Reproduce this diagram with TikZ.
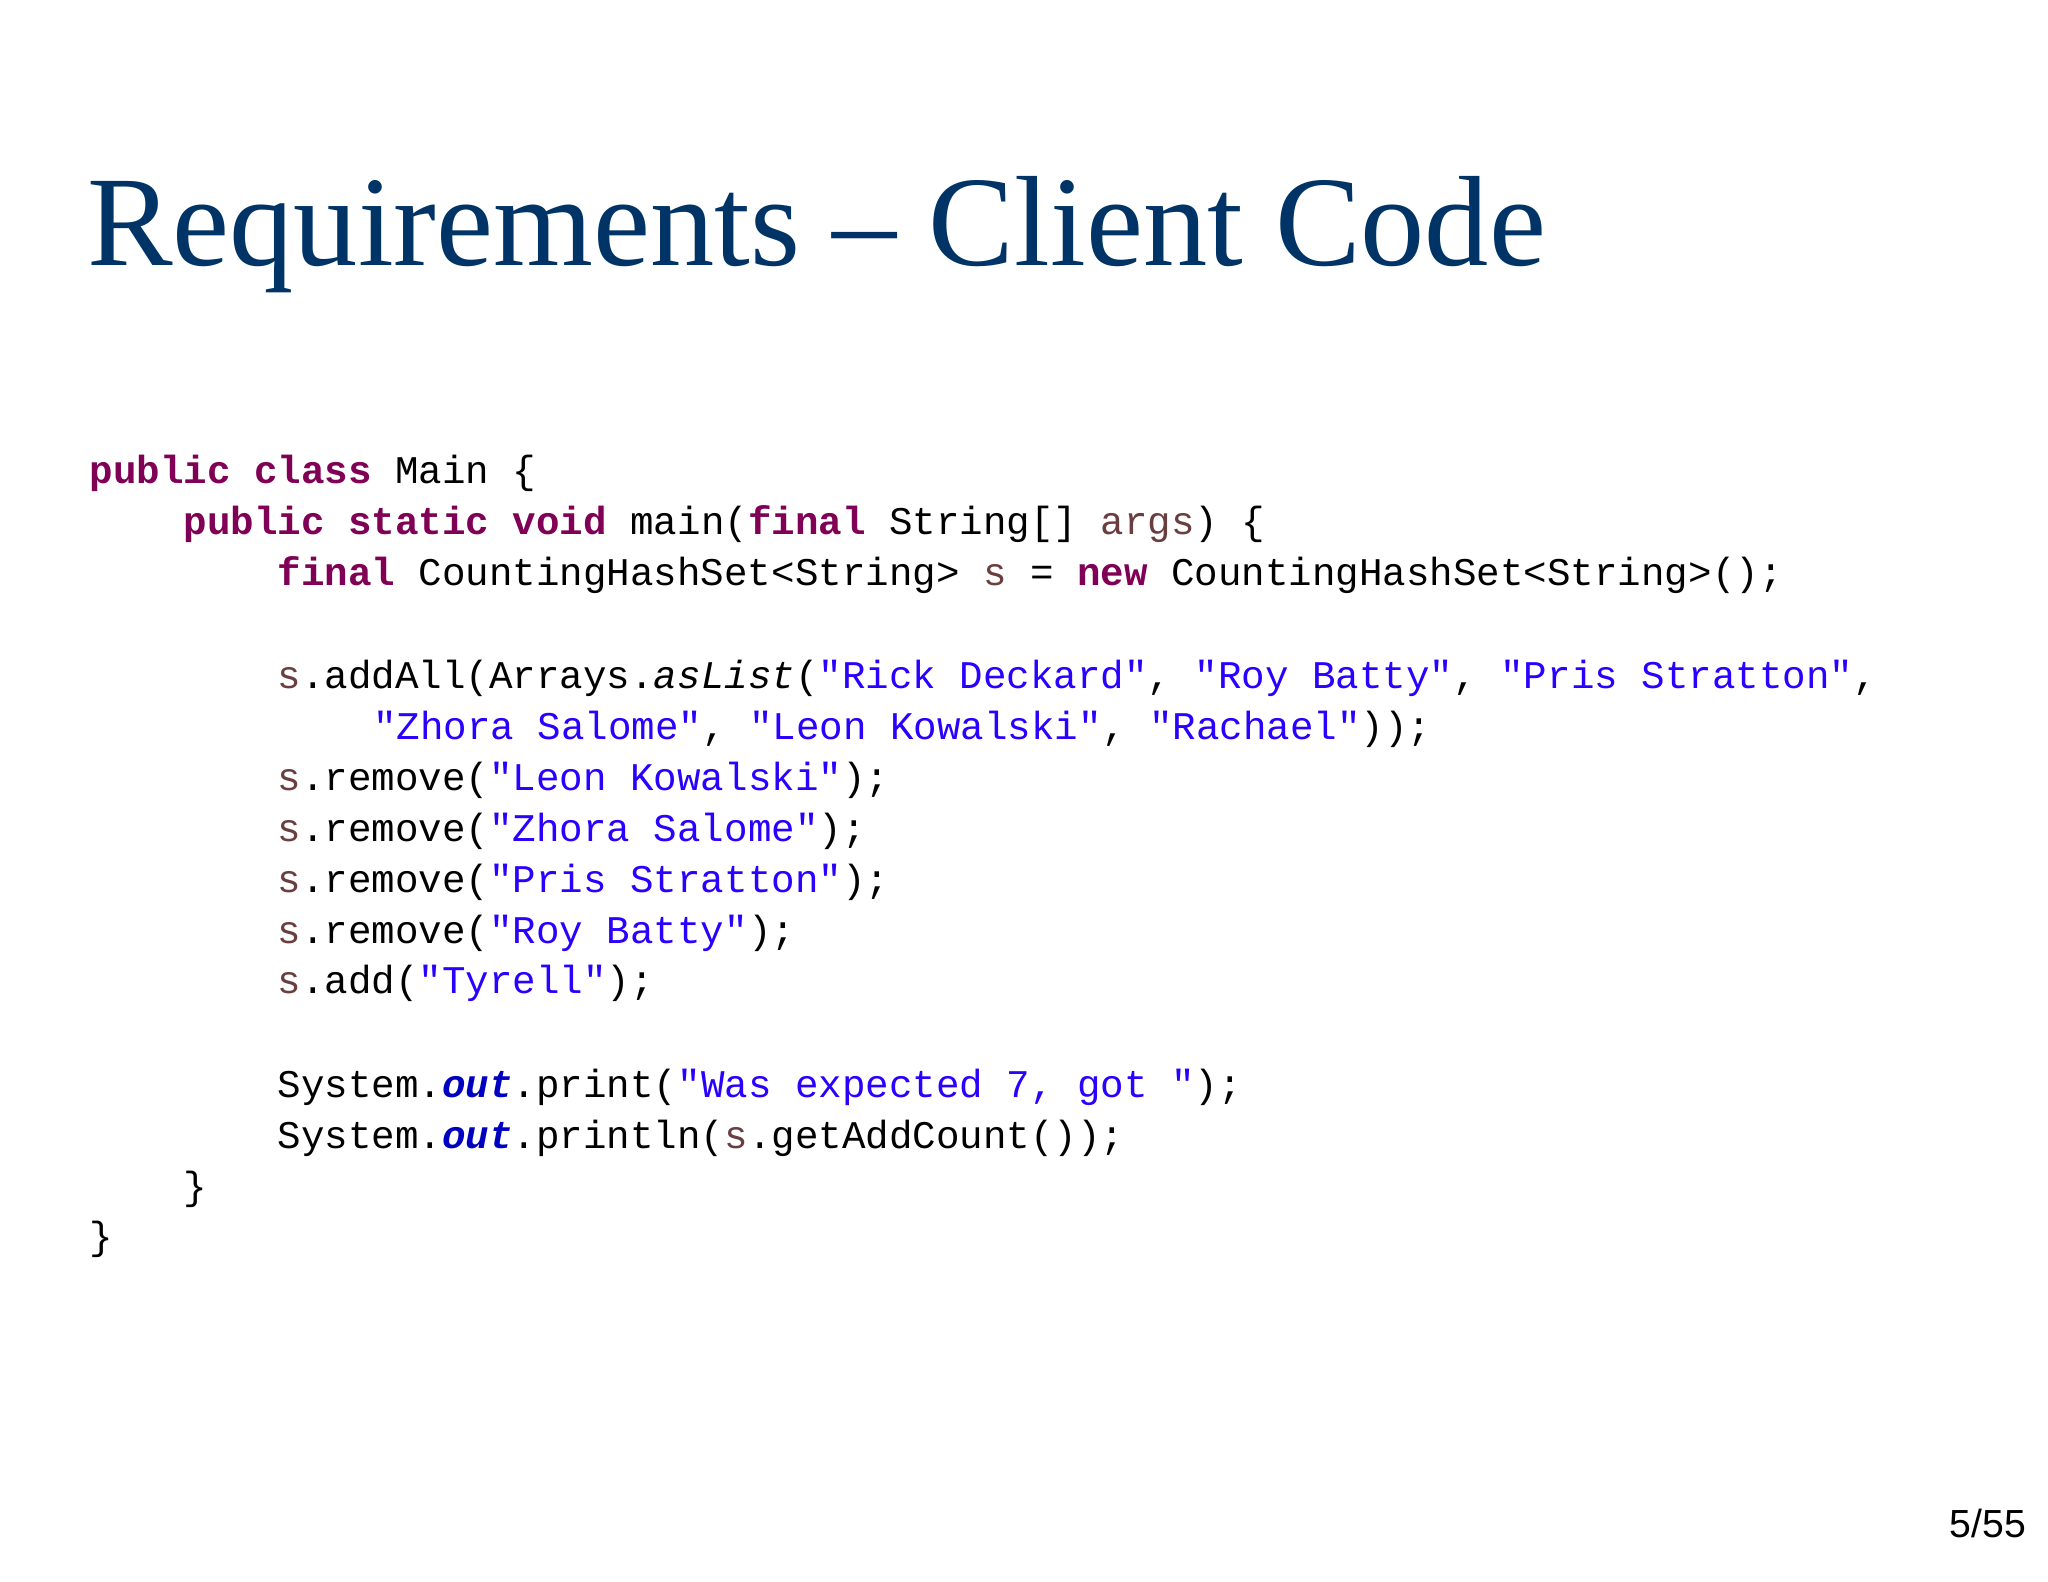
\documentclass[tikz,border=0pt]{standalone}
\usepackage{fontspec}
\setmainfont{Liberation Serif}
\setsansfont{Liberation Sans}
\setmonofont{Liberation Mono}
\definecolor{titleblue}{RGB}{0,51,102}
\definecolor{kw}{RGB}{127,0,85}
\definecolor{str}{RGB}{42,0,255}
\definecolor{lv}{RGB}{106,62,62}
\definecolor{fld}{RGB}{0,0,192}
\newcommand{\K}[1]{\textcolor{kw}{\bfseries #1}}
\newcommand{\St}[1]{\textcolor{str}{#1}}
\newcommand{\V}[1]{\textcolor{lv}{#1}}
\newcommand{\F}[1]{\textcolor{fld}{\bfseries\itshape #1}}
\begin{document}
\begin{tikzpicture}[x=0.3pt,y=-0.3pt,
  code/.style={anchor=base west,inner sep=0pt,font=\ttfamily\fontsize{9}{11}\selectfont}]
\useasboundingbox (0,0) rectangle (1568,1211);
\fill[white] (0,0) rectangle (1568,1211);
\node[anchor=base west,inner sep=0pt,text=titleblue,font=\fontsize{29.5}{32}\selectfont] (title) at (66,203) {Requirements -- Client Code};
\node[code] (l1) at (68,370) {\K{public} \K{class} Main \{};
\node[code] (l2) at (140,409) {\K{public} \K{static} \K{void} main(\K{final} String[] \V{args}) \{};
\node[code] (l3) at (212,448) {\K{final} CountingHashSet<String> \V{s} = \K{new} CountingHashSet<String>();};
\node[code] (l5) at (212,527) {\V{s}.addAll(Arrays.\textit{asList}(\St{"Rick Deckard"}, \St{"Roy Batty"}, \St{"Pris Stratton"},};
\node[code] (l6) at (285,566) {\St{"Zhora Salome"}, \St{"Leon Kowalski"}, \St{"Rachael"}));};
\node[code] (l7) at (212,605) {\V{s}.remove(\St{"Leon Kowalski"});};
\node[code] (l8) at (212,644) {\V{s}.remove(\St{"Zhora Salome"});};
\node[code] (l9) at (212,683) {\V{s}.remove(\St{"Pris Stratton"});};
\node[code] (l10) at (212,722) {\V{s}.remove(\St{"Roy Batty"});};
\node[code] (l11) at (212,761) {\V{s}.add(\St{"Tyrell"});};
\node[code] (l13) at (212,840) {System.\F{out}.print(\St{"Was expected 7, got "});};
\node[code] (l14) at (212,879) {System.\F{out}.println(\V{s}.getAddCount());};
\node[code] (l15) at (140,918) {\}};
\node[code] (l16) at (68,957) {\}};
\node[anchor=base east,inner sep=0pt,font=\sffamily\fontsize{9}{11}\selectfont] (pg) at (1552,1177) {5/55};
\end{tikzpicture}
\end{document}
